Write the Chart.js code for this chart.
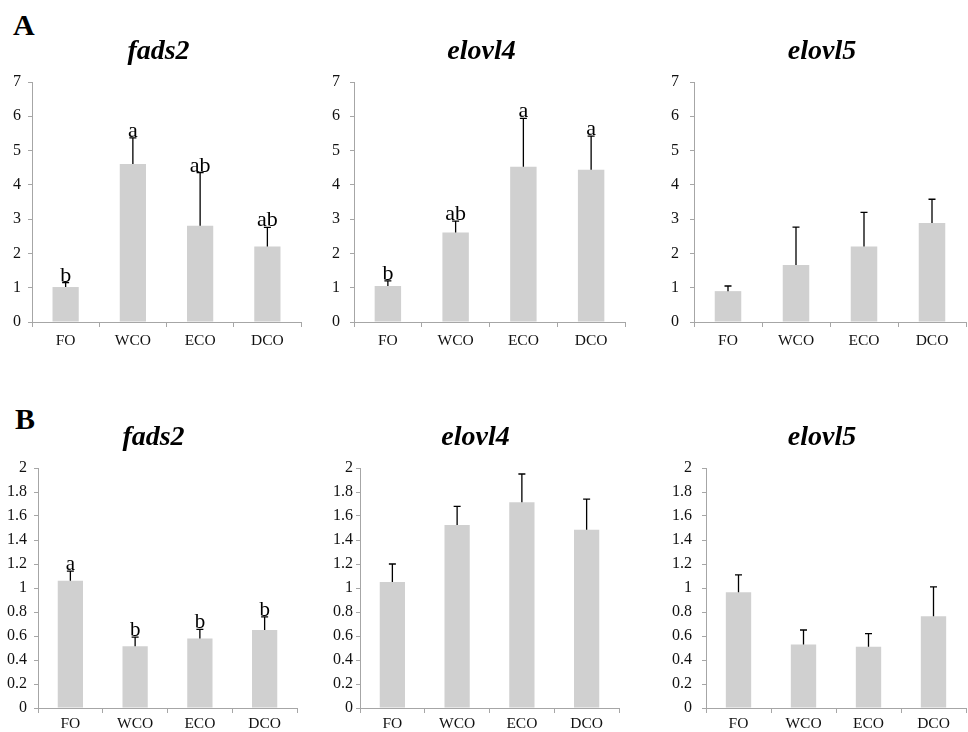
<!DOCTYPE html>
<html>
<head>
<meta charset="utf-8">
<script src="https://cdn.jsdelivr.net/npm/chart.js"></script>
<style>
  body { margin: 0; background: #fff; width: 968px; height: 732px; overflow: hidden; position: relative; }
  canvas { position: absolute; }
  .panel { position: absolute; font: bold 30px "Liberation Serif", serif; color: #000; }
</style>
</head>
<body>
<div class="panel" style="left:13px; top:8px;">A</div>
<div class="panel" style="left:15px; top:402px;">B</div>

<script>
// groups on the x axis
var groups = ['FO', 'WCO', 'ECO', 'DCO']

// row A (0-7 scale)
var aFads2 = [1.02, 4.61, 2.81, 2.20]
var aFads2Err = [0.13, 0.76, 1.55, 0.56]
var aFads2Sig = ['b', 'a', 'ab', 'ab']

var aElovl4 = [1.05, 2.61, 4.53, 4.44]
var aElovl4Err = [0.15, 0.33, 1.41, 0.98]
var aElovl4Sig = ['b', 'ab', 'a', 'a']

var aElovl5 = [0.90, 1.66, 2.20, 2.89]
var aElovl5Err = [0.15, 1.11, 1.00, 0.69]
var aElovl5Sig = []

// row B (0-2 scale)
var bFads2 = [1.06, 0.515, 0.58, 0.65]
var bFads2Err = [0.08, 0.075, 0.075, 0.11]
var bFads2Sig = ['a', 'b', 'b', 'b']

var bElovl4 = [1.05, 1.525, 1.715, 1.485]
var bElovl4Err = [0.15, 0.155, 0.235, 0.255]
var bElovl4Sig = []

var bElovl5 = [0.965, 0.53, 0.51, 0.765]
var bElovl5Err = [0.145, 0.12, 0.11, 0.245]
var bElovl5Sig = []

var serif = '"Liberation Serif", "Times New Roman", serif'

// error bars (upward whisker + cap), letters and gene title
var extras = {
  id: 'extras',
  afterDatasetsDraw: function(chart) {
    var ctx = chart.ctx
    var o = chart.options.plugins.extras
    var meta = chart.getDatasetMeta(0)
    var y = chart.scales.y
    var area = chart.chartArea
    ctx.save()
    ctx.strokeStyle = '#000'
    ctx.lineWidth = 1.3
    meta.data.forEach(function(bar, i) {
      var top = y.getPixelForValue(o.values[i] + o.err[i])
      ctx.beginPath()
      ctx.moveTo(bar.x, bar.y)
      ctx.lineTo(bar.x, top)
      ctx.moveTo(bar.x - 3.5, top)
      ctx.lineTo(bar.x + 3.5, top)
      ctx.stroke()
      if (o.sig[i]) {
        ctx.fillStyle = '#000'
        ctx.font = o.sigSize + 'px ' + serif
        ctx.textAlign = 'center'
        ctx.textBaseline = 'alphabetic'
        ctx.fillText(o.sig[i], bar.x, top - 1)
      }
    })
    ctx.font = 'italic bold 28px ' + serif
    ctx.fillStyle = '#000'
    ctx.textAlign = 'center'
    ctx.textBaseline = 'alphabetic'
    ctx.fillText(o.title, (area.left + area.right) / 2 + o.titleDx, area.top - 23)
    ctx.restore()
  }
}

function drawPanel(box, title, values, err, sig, yMax, yStep, opts) {
  var padTop = 80, yW = 45, xH = 40, padR = 2
  var canvas = document.createElement('canvas')
  var w = box[2] - box[0] + yW + padR
  var h = box[3] - box[1] + padTop + xH
  canvas.width = w
  canvas.height = h
  canvas.style.left = (box[0] - yW) + 'px'
  canvas.style.top = (box[1] - padTop) + 'px'
  canvas.style.width = w + 'px'
  canvas.style.height = h + 'px'
  document.body.appendChild(canvas)

  new Chart(canvas.getContext('2d'), {
    type: 'bar',
    data: {
      labels: groups,
      datasets: [{
        data: values,
        backgroundColor: '#d0d0d0',
        borderWidth: 0,
        barPercentage: 0.39,
        categoryPercentage: 1
      }]
    },
    plugins: [extras],
    options: {
      responsive: false,
      animation: false,
      layout: { padding: { top: padTop, right: padR, left: 0, bottom: 0 } },
      plugins: {
        legend: { display: false },
        tooltip: { enabled: false },
        extras: { values: values, err: err, sig: sig, title: title, titleDx: opts.titleDx, sigSize: opts.sigSize }
      },
      scales: {
        x: {
          afterFit: function(s) { s.height = xH },
          grid: { drawOnChartArea: false, drawTicks: true, tickLength: 5, color: '#a6a6a6', offset: true },
          border: { color: '#a6a6a6', width: 1 },
          ticks: { color: '#111', padding: opts.xPad, font: { family: serif, size: 15.5 } }
        },
        y: {
          min: 0,
          max: yMax,
          afterFit: function(s) { s.width = yW },
          grid: { drawOnChartArea: false, drawTicks: true, tickLength: 4, color: '#a6a6a6' },
          border: { color: '#a6a6a6', width: 1 },
          ticks: {
            stepSize: yStep,
            color: '#111',
            padding: opts.yPad,
            font: { family: serif, size: 16 },
            callback: function(v) { return String(+v.toFixed(1)) }
          }
        }
      }
    }
  })
}

drawPanel([32, 82, 301, 322], 'fads2', aFads2, aFads2Err, aFads2Sig, 7, 1, { titleDx: -8, xPad: 5, yPad: 7, sigSize: 22 })
drawPanel([354, 82, 625, 322], 'elovl4', aElovl4, aElovl4Err, aElovl4Sig, 7, 1, { titleDx: -8, xPad: 5, yPad: 10, sigSize: 22 })
drawPanel([694, 82, 966, 322], 'elovl5', aElovl5, aElovl5Err, aElovl5Sig, 7, 1, { titleDx: -8, xPad: 5, yPad: 11, sigSize: 22 })
drawPanel([38, 468, 297, 708], 'fads2', bFads2, bFads2Err, bFads2Sig, 2, 0.2, { titleDx: -14, xPad: 2, yPad: 7, sigSize: 21 })
drawPanel([360, 468, 619, 708], 'elovl4', bElovl4, bElovl4Err, bElovl4Sig, 2, 0.2, { titleDx: -14, xPad: 2, yPad: 3, sigSize: 21 })
drawPanel([706, 468, 966, 708], 'elovl5', bElovl5, bElovl5Err, bElovl5Sig, 2, 0.2, { titleDx: -14, xPad: 2, yPad: 10, sigSize: 21 })
</script>
</body>
</html>
